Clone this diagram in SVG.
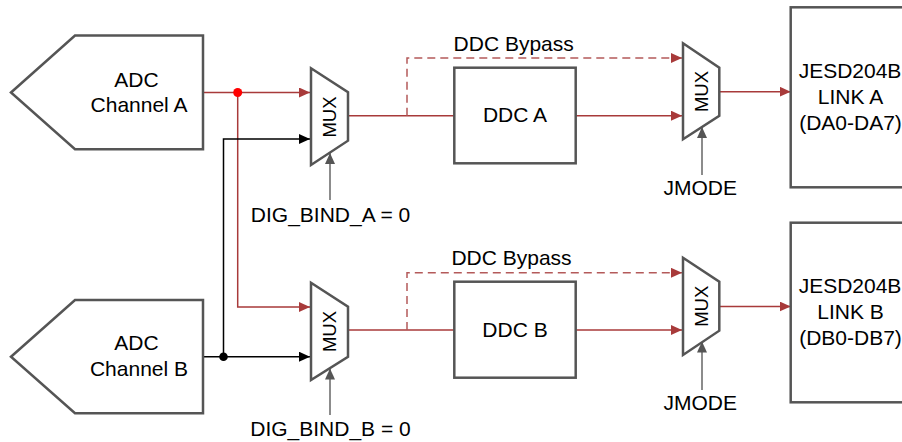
<svg xmlns="http://www.w3.org/2000/svg" width="902" height="442" viewBox="0 0 902 442">
<style>
.blk{fill:#fff;stroke:#555;stroke-width:2.5}
.t{font-family:"Liberation Sans",Arial,Helvetica,sans-serif;font-size:21px;fill:#000;text-anchor:middle}
.m{font-family:"Liberation Sans",Arial,Helvetica,sans-serif;font-size:18.5px;fill:#000;text-anchor:middle;dominant-baseline:central}
.r{fill:none;stroke:#a83a3a;stroke-width:1.5}
.rd{fill:none;stroke:#b45a5a;stroke-width:1.5;stroke-dasharray:8,5}
.k{fill:none;stroke:#000;stroke-width:1.5}
.g{fill:none;stroke:#666;stroke-width:1.5}
</style>
<defs>
<marker id="ar" markerUnits="userSpaceOnUse" markerWidth="12" markerHeight="10" refX="11" refY="5" orient="auto"><path d="M0,0 L11,5 L0,10 z" fill="#a83a3a"/></marker>
<marker id="ak" markerUnits="userSpaceOnUse" markerWidth="12" markerHeight="10" refX="11" refY="5" orient="auto"><path d="M0,0 L11,5 L0,10 z" fill="#000"/></marker>
<marker id="ag" markerUnits="userSpaceOnUse" markerWidth="12" markerHeight="10" refX="11" refY="5" orient="auto"><path d="M0,0 L11,5 L0,10 z" fill="#555"/></marker>
</defs>
<g id="connectors">
<path class="r" d="M203,92.5 H310" marker-end="url(#ar)"/>
<path class="r" d="M237.7,92.5 V307 H310" marker-end="url(#ar)"/>
<path class="k" d="M223.5,356.7 V139 H310" marker-end="url(#ak)"/>
<path class="k" d="M203,356.7 H310" marker-end="url(#ak)"/>
<circle cx="237.7" cy="92.5" r="4.5" fill="#f00"/>
<circle cx="223.5" cy="356.7" r="4.3" fill="#000"/>
<path class="r" d="M348,115.7 H454.3"/>
<path class="rd" d="M407,115.7 V58 H682" marker-end="url(#ar)"/>
<path class="r" d="M575.7,115.7 H682" marker-end="url(#ar)"/>
<path class="r" d="M719.3,91.7 H790.7" marker-end="url(#ar)"/>
<path class="g" d="M330,200 V153" marker-end="url(#ag)"/>
<path class="g" d="M702,175 V127" marker-end="url(#ag)"/>
<path class="r" d="M348,330 H454.3"/>
<path class="rd" d="M407,330 V272.8 H682" marker-end="url(#ar)"/>
<path class="r" d="M575.7,330 H682" marker-end="url(#ar)"/>
<path class="r" d="M719.3,306.5 H790.7" marker-end="url(#ar)"/>
<path class="g" d="M330,415 V368.5" marker-end="url(#ag)"/>
<path class="g" d="M702,390 V341.5" marker-end="url(#ag)"/>
</g>
<g id="adc_a">
<polygon class="blk" points="11,92.5 75,35.5 203,35.5 203,149.3 75,149.3"/>
<text class="t" x="136.5" y="86.7">ADC</text>
<text class="t" x="139" y="111.7">Channel A</text>
</g>
<g id="adc_b">
<polygon class="blk" points="11,356.7 75,300 203,300 203,413.3 75,413.3"/>
<text class="t" x="136.5" y="350">ADC</text>
<text class="t" x="139" y="375.7">Channel B</text>
</g>
<g id="mux_a">
<polygon class="blk" points="311,68.3 348,92.3 348,140.7 311,165"/>
<text class="m" transform="translate(329,117) rotate(-90)">MUX</text>
</g>
<g id="mux_b">
<polygon class="blk" points="311,282.7 348,306.7 348,356.7 311,380"/>
<text class="m" transform="translate(329,331.5) rotate(-90)">MUX</text>
</g>
<g id="label_dig_a"><text class="t" x="330.5" y="221.7">DIG_BIND_A = 0</text></g>
<g id="label_dig_b"><text class="t" x="330.5" y="436">DIG_BIND_B = 0</text></g>
<g id="ddc_a">
<rect class="blk" x="454.3" y="67.7" width="121.4" height="95.6"/>
<text class="t" x="515" y="121.7">DDC A</text>
</g>
<g id="ddc_b">
<rect class="blk" x="454.3" y="281.7" width="121.4" height="96"/>
<text class="t" x="515" y="336.7">DDC B</text>
</g>
<g id="bypass_a"><text class="t" x="513.7" y="51">DDC Bypass</text></g>
<g id="bypass_b"><text class="t" x="511.5" y="265">DDC Bypass</text></g>
<g id="mux2_a">
<polygon class="blk" points="683,43.3 719.3,67.7 719.3,115.7 683,139.3"/>
<text class="m" transform="translate(701,91.5) rotate(-90)">MUX</text>
</g>
<g id="mux2_b">
<polygon class="blk" points="683,257.7 719.3,281.7 719.3,330.7 683,355"/>
<text class="m" transform="translate(701,306.3) rotate(-90)">MUX</text>
</g>
<g id="jmode_a"><text class="t" x="700.3" y="195">JMODE</text></g>
<g id="jmode_b"><text class="t" x="700.3" y="410">JMODE</text></g>
<g id="jesd_a">
<rect class="blk" x="790.7" y="7.3" width="130" height="180"/>
<text class="t" x="850" y="78">JESD204B</text>
<text class="t" x="850.5" y="104">LINK A</text>
<text class="t" x="850.5" y="129.5">(DA0-DA7)</text>
</g>
<g id="jesd_b">
<rect class="blk" x="790.7" y="222.7" width="130" height="179.6"/>
<text class="t" x="850" y="293.3">JESD204B</text>
<text class="t" x="850.5" y="319.3">LINK B</text>
<text class="t" x="850.5" y="345">(DB0-DB7)</text>
</g>
</svg>
